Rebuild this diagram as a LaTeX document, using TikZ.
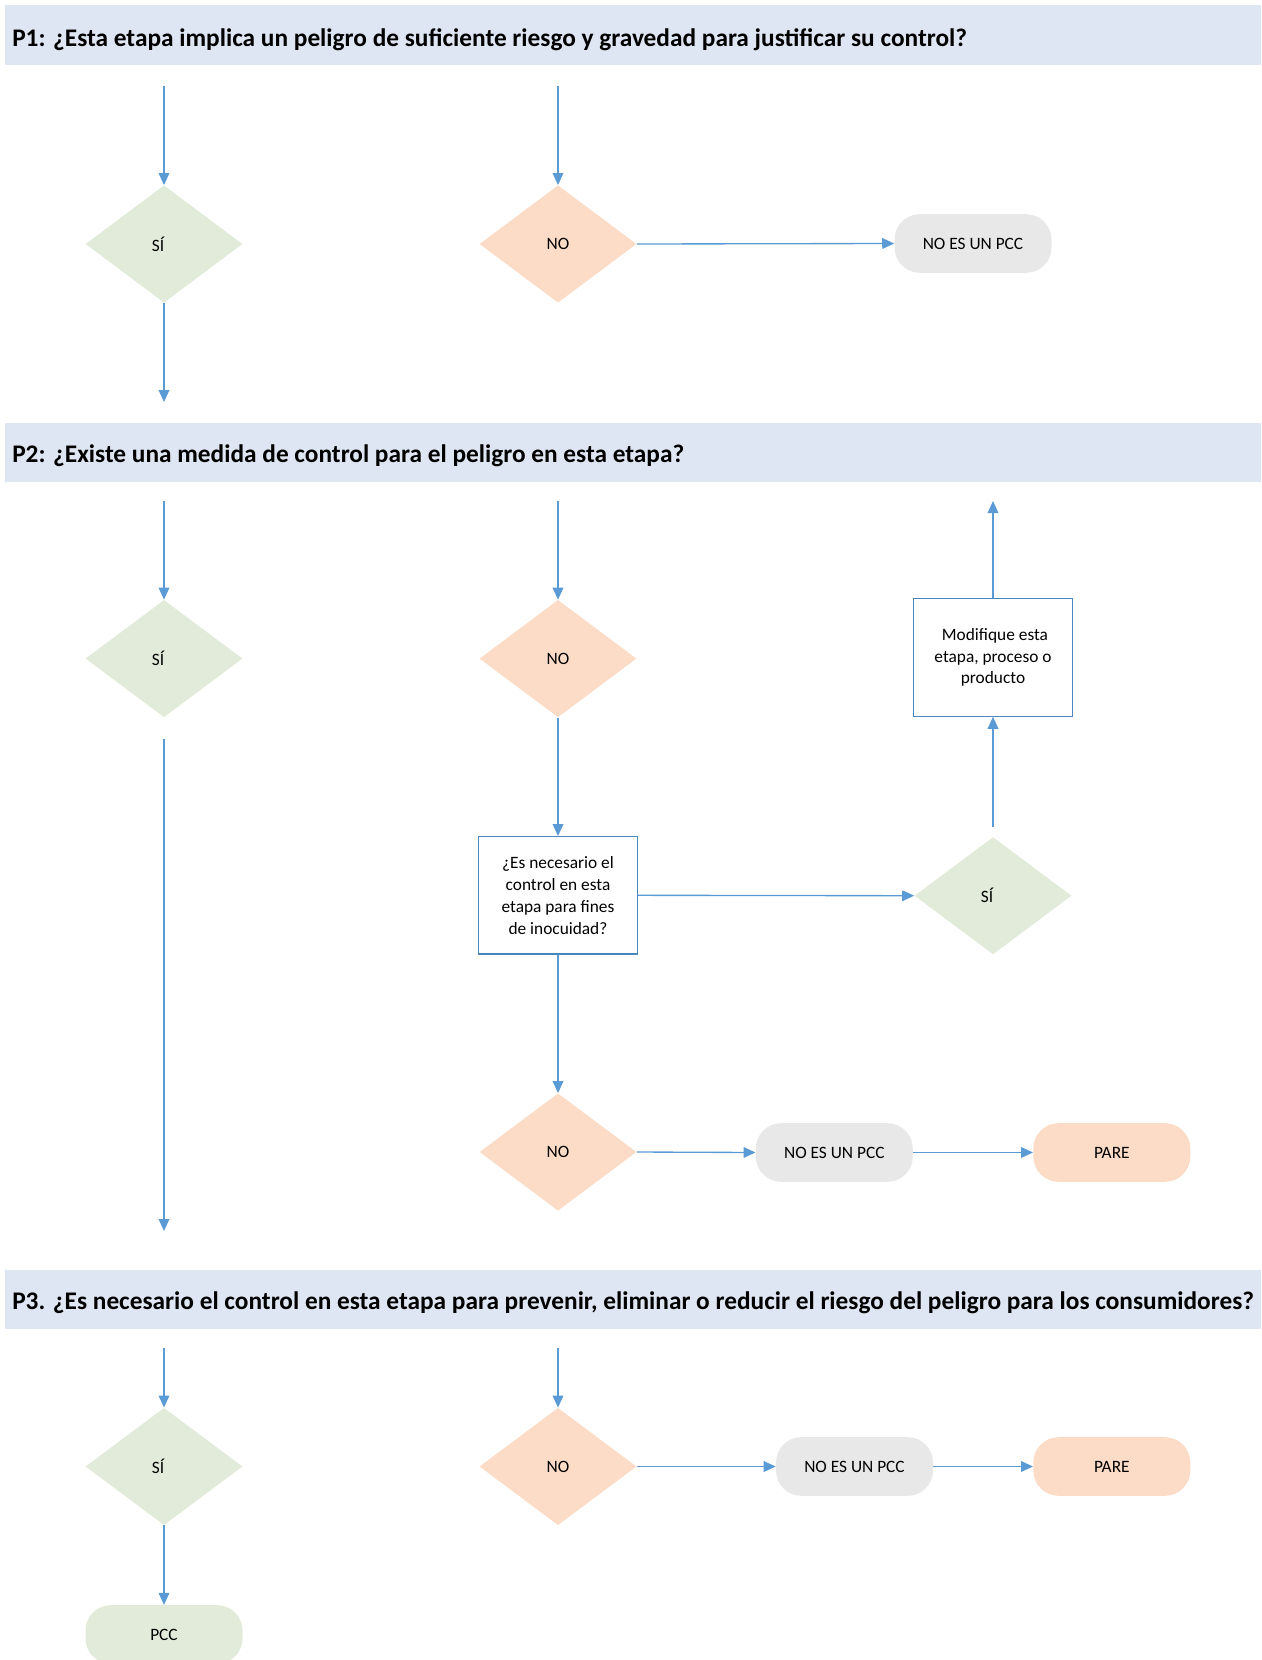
\documentclass[tikz,border=0pt]{standalone}
\usepackage{fontspec}
\setmainfont{Carlito}
\usetikzlibrary{arrows.meta,positioning,shapes.geometric}

\definecolor{barblue}{HTML}{DFE6F3}
\definecolor{sigreen}{HTML}{E2EBDA}
\definecolor{nopeach}{HTML}{FCDCC6}
\definecolor{pccgray}{HTML}{E8E8E8}
\definecolor{lineblue}{HTML}{5B9BD5}
\definecolor{boxblue}{HTML}{4A86BF}

\begin{document}
\begin{tikzpicture}[x=0.75pt,y=-0.75pt,>={Triangle[length=9pt,width=8pt]},
  flow/.style={draw=lineblue,line width=1pt,->},
  qbar/.style={fill=barblue,minimum width=942pt,minimum height=45pt,inner sep=0pt,anchor=north west},
  qtext/.style={font=\bfseries\fontsize{19}{22}\selectfont,anchor=west,inner sep=0pt},
  sidiam/.style={diamond,fill=sigreen,minimum width=117.75pt,minimum height=88pt,inner sep=0pt,font=\fontsize{13}{15.6}\selectfont},
  nodiam/.style={sidiam,fill=nopeach},
  pill/.style={rounded corners=19pt,minimum width=117.75pt,minimum height=44pt,inner sep=0pt,font=\fontsize{13}{15.6}\selectfont},
  qbox/.style={draw=boxblue,line width=0.9pt,minimum width=119pt,minimum height=88pt,align=center,inner sep=2pt,font=\fontsize{13}{16.4}\selectfont}]
\useasboundingbox (0,0) rectangle (1261,1660);

% P1
\node[qbar] (p1bar) at (5,5) {};
\node[qtext] (p1) at (12,40) {P1: ¿Esta etapa implica un peligro de suficiente riesgo y gravedad para justificar su control?};
\coordinate (p1a) at (164,86);
\coordinate (p1b) at (558,86);
\node[sidiam] (si1) at (164,244) {SÍ\kern9pt};
\node[nodiam] (no1) at (558,244) {NO};
\node[pill,fill=pccgray] (pcc1) at (973,243.5) {NO ES UN PCC};
\coordinate (p1c) at (164,402);
\draw[flow] (p1a)--(si1.north);
\draw[flow] (p1b)--(no1.north);
\draw[flow] (si1.south)--(p1c);
\draw[flow] (no1.east)--(pcc1.west);

% P2
\node[qbar,minimum height=44.5pt] (p2bar) at (5,422.5) {};
\node[qtext] (p2) at (12,456) {P2: ¿Existe una medida de control para el peligro en esta etapa?};
\coordinate (p2a) at (164,501);
\coordinate (p2b) at (558,501);
\node[sidiam] (si2) at (164,658.6) {SÍ\kern9pt};
\node[nodiam] (no2) at (558,658.6) {NO};
\node[qbox] (nec) at (558,895.3) {¿Es necesario el\\control en esta\\etapa para fines\\de inocuidad?};
\node[sidiam] (si3) at (993,895.7) {SÍ\kern9pt};
\node[qbox] (mod) at (993,657.5) {\ Modifique esta\\etapa, proceso o\\producto};
\coordinate (p2c) at (993,501);
\node[nodiam] (no3) at (558,1152) {NO};
\node[pill,fill=pccgray] (pcc2) at (834.3,1152.5) {NO ES UN PCC};
\node[pill,fill=nopeach] (pare1) at (1111.8,1152.5) {PARE};
\coordinate (p2d) at (164,1231);
\draw[flow] (p2a)--(si2.north);
\draw[flow] (p2b)--(no2.north);
\draw[flow,shorten <=16pt] (si2.south)--(p2d);
\draw[flow] (no2.south)--(nec.north);
\draw[flow] (nec.east)--(si3.west);
\draw[flow,shorten <=7.5pt] (si3.north)--(mod.south);
\draw[flow] (mod.north)--(p2c);
\draw[flow] (nec.south)--(no3.north);
\draw[flow] (no3.east)--(pcc2.west);
\draw[flow] (pcc2.east)--(pare1.west);

% P3
\node[qbar,minimum height=44.5pt] (p3bar) at (5,1269.5) {};
\node[qtext] (p3) at (12,1303) {P3. ¿Es necesario el control en esta etapa para prevenir, eliminar o reducir el riesgo del peligro para los consumidores?};
\coordinate (p3a) at (164,1348);
\coordinate (p3b) at (558,1348);
\node[sidiam] (si4) at (164,1466.5) {SÍ\kern9pt};
\node[nodiam] (no4) at (558,1466.5) {NO};
\node[pill,fill=pccgray] (pcc3) at (854.5,1466.5) {NO ES UN PCC};
\node[pill,fill=nopeach] (pare2) at (1111.8,1466.5) {PARE};
\node[pill,fill=sigreen] (pcc) at (164,1634.5) {PCC};
\draw[flow] (p3a)--(si4.north);
\draw[flow] (p3b)--(no4.north);
\draw[flow] (no4.east)--(pcc3.west);
\draw[flow] (pcc3.east)--(pare2.west);
\draw[flow] (si4.south)--(pcc.north);
\end{tikzpicture}
\end{document}
